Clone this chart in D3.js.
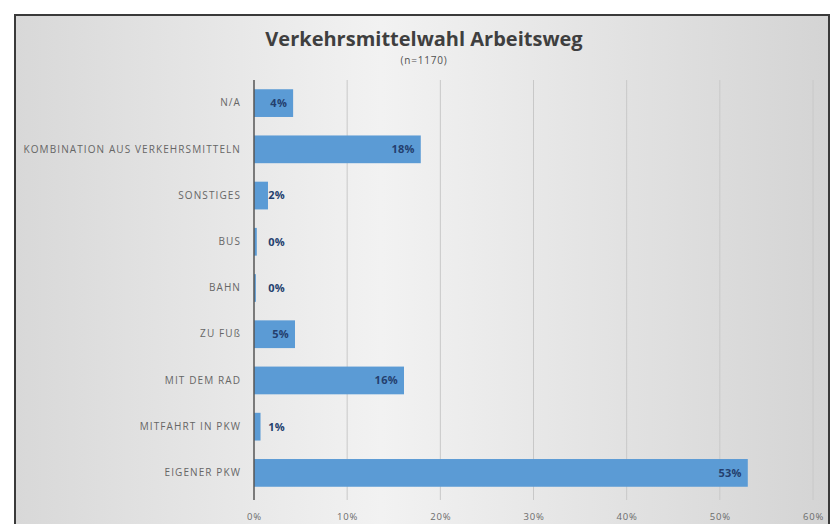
<html>
<head>
<script src="https://cdn.jsdelivr.net/npm/d3@7"></script>
<style>
  body { margin: 0; background: #fff; }
  text { font-family: "Open Sans", "Noto Sans", sans-serif; }
</style>
</head>
<body>
<svg width="837" height="524"></svg>
<script>
// daten
var categories = ['N/A', 'KOMBINATION AUS VERKEHRSMITTELN', 'SONSTIGES', 'BUS', 'BAHN',
                  'ZU FUß', 'MIT DEM RAD', 'MITFAHRT IN PKW', 'EIGENER PKW']
var values = [4.2, 17.9, 1.5, 0.3, 0.2, 4.4, 16.1, 0.7, 53]
var labels = ['4%', '18%', '2%', '0%', '0%', '5%', '16%', '1%', '53%']
var ticks = [0, 10, 20, 30, 40, 50, 60]

var svg = d3.select('svg')

// hintergrund mit verlauf
var grad = svg.append('defs').append('linearGradient').attr('id', 'bg')
grad.append('stop').attr('offset', '0%').attr('stop-color', '#d8d8d8')
grad.append('stop').attr('offset', '45%').attr('stop-color', '#f2f2f2')
grad.append('stop').attr('offset', '100%').attr('stop-color', '#d4d4d4')

svg.append('rect')
  .attr('x', 15).attr('y', 15).attr('width', 814).attr('height', 520)
  .attr('fill', 'url(#bg)')
  .attr('stroke', '#3a3a3a').attr('stroke-width', 2)

var x = d3.scaleLinear().domain([0, 60]).range([254, 813])
var y = d3.scaleBand().domain(categories).range([80, 496]).paddingInner(0.4).paddingOuter(0.2)

// gitterlinien
svg.selectAll('.grid').data(ticks.slice(1)).enter().append('line')
  .attr('x1', d => x(d)).attr('x2', d => x(d))
  .attr('y1', 80).attr('y2', 500)
  .attr('stroke', '#c8c8c8').attr('stroke-width', 1)

// achsenbeschriftung unten
var xAxis = svg.append('g').attr('transform', 'translate(0,507)')
  .call(d3.axisBottom(x).tickValues(ticks).tickSize(0).tickFormat(d => d + '%'))
xAxis.select('.domain').remove()
xAxis.selectAll('text').attr('fill', '#6b6b6b').attr('font-size', 9.5)
  .attr('letter-spacing', 0.8).attr('dy', '1em')

// balken
svg.selectAll('.bar').data(values).enter().append('rect')
  .attr('x', x(0))
  .attr('y', (d, i) => y(categories[i]))
  .attr('width', d => x(d) - x(0))
  .attr('height', y.bandwidth())
  .attr('fill', '#5b9bd5')

// y-achse
var yAxis = svg.append('g').attr('transform', 'translate(' + x(0) + ',0)')
  .call(d3.axisLeft(y).tickSize(0).tickPadding(13))
yAxis.select('.domain').attr('stroke', '#555').attr('stroke-width', 1.5)
  .attr('d', 'M0,80V500')
yAxis.selectAll('text').attr('fill', '#666').attr('font-size', 10)
  .attr('letter-spacing', 1.1)

// werte
svg.selectAll('.val').data(values).enter().append('text')
  .attr('x', d => Math.max(x(d) - 6, 285))
  .attr('y', (d, i) => y(categories[i]) + y.bandwidth() / 2)
  .attr('dy', '0.35em')
  .attr('text-anchor', 'end')
  .attr('font-size', 11).attr('font-weight', 'bold')
  .attr('letter-spacing', 0.3)
  .attr('fill', '#243f6e')
  .text((d, i) => labels[i])

// titel
svg.append('text').attr('x', 424).attr('y', 46).attr('text-anchor', 'middle')
  .attr('font-size', 20).attr('font-weight', 'bold').attr('fill', '#3f3f3f')
  .text('Verkehrsmittelwahl Arbeitsweg')
svg.append('text').attr('x', 424).attr('y', 64).attr('text-anchor', 'middle')
  .attr('font-size', 10).attr('letter-spacing', 0.8).attr('fill', '#505050')
  .text('(n=1170)')
</script>
</body>
</html>
